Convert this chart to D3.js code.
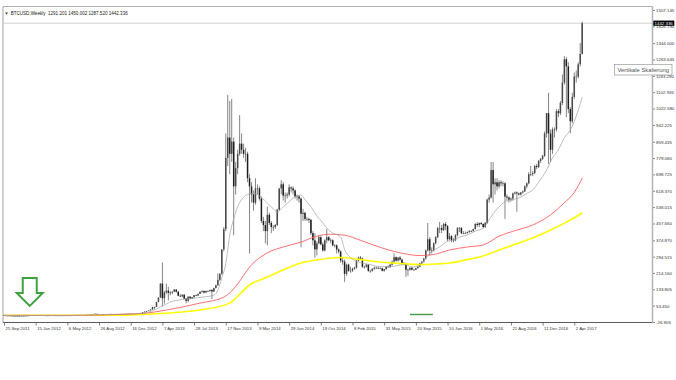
<!DOCTYPE html>
<html><head><meta charset="utf-8">
<script src="https://cdn.jsdelivr.net/npm/d3@7"></script>
<style>
html,body{margin:0;padding:0;background:#fff;}
svg{display:block;}
text{font-family:"Liberation Sans",Arial,sans-serif;}
</style></head><body>
<svg id="c" width="676" height="380"></svg>
<script>
// Weekly OHLC [open, high, low, close], weeks starting Sunday 25 Sep 2011
const ohlc2011 = [
[5.5,5.9,4.6,4.9],[4.9,5.2,4.2,4.4],[4.4,4.5,3.8,4.1],[4.1,4.2,3.0,3.2],[3.2,3.6,2.8,3.2],
[3.2,3.5,2.9,3.0],[3.0,3.1,2.7,2.9],[2.9,3.0,2.0,2.3],[2.3,2.6,2.2,2.5],[2.5,3.0,2.4,2.9],
[2.9,3.1,2.8,3.0],[3.0,3.3,2.9,3.2],[3.2,4.0,3.1,4.0],[4.0,5.1,3.9,5.0]];
const ohlc2012 = [
[5.0,7.2,4.9,6.8],[6.8,7.3,6.2,6.3],[6.3,7.0,5.9,6.4],[6.4,6.5,5.5,5.7],[5.7,6.2,5.6,6.0],
[6.0,6.1,5.4,5.6],[5.6,5.7,4.4,4.8],[4.8,5.2,4.3,5.0],[5.0,5.1,4.8,4.9],[4.9,5.0,4.8,4.9],
[4.9,5.4,4.8,5.3],[5.3,5.4,4.7,4.8],[4.8,5.0,4.7,4.9],[4.9,5.0,4.8,4.9],[4.9,5.0,4.8,4.9],
[4.9,5.2,4.9,5.1],[5.1,5.2,4.9,5.0],[5.0,5.1,4.9,5.0],[5.0,5.1,4.9,5.0],[5.0,5.2,4.9,5.1],
[5.1,5.2,5.0,5.1],[5.1,5.3,5.0,5.3],[5.3,5.6,5.2,5.5],[5.5,6.0,5.4,5.9],[5.9,6.5,5.8,6.4],
[6.4,6.8,6.3,6.7],[6.7,7.0,6.4,6.8],[6.8,7.7,6.7,7.6],[7.6,9.0,7.5,8.8],[8.8,9.2,8.4,8.9],
[8.9,11.0,8.8,10.9],[10.9,11.6,10.5,11.4],[11.4,15.4,11.2,13.2],[13.2,13.5,7.1,10.8],[10.8,11.0,10.0,10.4],
[10.4,11.2,10.3,11.1],[11.1,11.8,11.0,11.6],[11.6,12.4,11.5,12.3],[12.3,12.5,12.0,12.3],[12.3,12.9,12.2,12.7],
[12.7,12.8,11.8,12.0],[12.0,12.1,11.6,11.8],[11.8,11.9,11.0,11.6],[11.6,11.7,10.5,10.8],[10.8,11.0,10.7,10.9],
[10.9,11.3,10.8,11.2],[11.2,12.4,11.1,12.3],[12.3,12.7,12.0,12.6],[12.6,13.5,12.5,13.4],[13.4,13.8,13.0,13.6],
[13.6,13.7,13.1,13.3],[13.3,13.5,13.2,13.4],[13.4,13.8,13.3,13.7]];
const ohlc2013 = [
[13.7,14.3,13.5,14.1],[14.1,15.9,14.0,15.7],[15.7,17.8,15.5,17.5],[17.5,20.8,17.2,20.6],[20.6,24.5,20.1,24.2],
[24.2,27.6,22.0,27.2],[27.2,30.0,26.5,29.9],[29.9,34.8,29.0,34.5],[34.5,48.0,34.0,46.8],[46.8,48.5,36.0,47.0],
[47.0,72.0,46.5,71.5],[71.5,95.0,70.0,93.0],[93,164,92,162],[162,266,50,90],[90,126,63,119],
[119,162,109,127],[127,146,79,116],[116,125,105,117],[117,124,110,122],[122,135,119,133],
[133,134,118,122],[122,125,100,102],[102,110,96,99],[99,110,95,107],[107,111,86,88],
[88,90,65,77],[77,99,70,98],[98,100,85,89],[89,97,86,95],[95,106,93,105],
[105,108,100,103],[103,113,101,111],[111,124,110,122],[122,128,117,126],[126,127,113,118],
[118,127,116,126],[126,128,122,125],[125,132,123,131],[131,134,85,123],[123,142,121,140],
[140,156,139,154],[154,212,150,180],[180,212,175,210],[210,330,205,330],[330,440,320,430],
[430,900,420,780],[780,1090,740,880],[880,1060,700,800],[800,1070,760,860],[860,880,400,640],
[640,760,600,730],[730,820,700,800]];
const ohlc2014 = [
[800,990,790,850],[850,900,800,820],[820,850,780,800],[800,830,760,800],[800,810,660,680],
[680,700,310,640],[640,660,560,600],[600,620,520,560],[560,680,550,630],[630,650,600,630],
[630,640,570,580],[580,590,460,470],[470,490,420,450],[450,470,360,420],[420,540,350,500],
[500,510,450,460],[460,470,410,440],[440,450,420,440],[440,455,430,450],[450,530,445,525],
[525,630,520,630],[630,670,600,650],[650,660,570,595],[595,610,560,595],[595,610,580,600],
[600,650,590,635],[635,640,610,630],[630,640,600,620],[620,625,580,590],[590,600,570,590],
[590,595,560,580],[580,585,340,505],[505,530,470,510],[510,515,470,480],[480,490,470,480],
[480,485,460,475],[475,480,400,410],[410,420,350,375],[375,410,290,330],[330,370,300,360],
[360,400,355,390],[390,395,350,355],[355,365,320,325],[325,380,320,375],[375,430,360,390],
[390,395,370,375],[375,385,360,375],[375,380,345,350],[350,355,340,350],[350,355,310,330],
[330,335,310,320],[320,325,265,275]];
const ohlc2015 = [
[275,290,255,270],[270,280,170,210],[210,260,200,255],[255,260,220,225],[225,245,215,225],
[225,240,220,235],[235,245,230,240],[240,280,235,275],[275,295,270,290],[290,298,280,285],
[285,290,240,245],[245,250,235,245],[245,260,240,255],[255,258,220,225],[225,230,215,225],
[225,237,220,235],[235,245,230,240],[240,245,233,240],[240,243,232,237],[237,242,233,237],
[237,240,222,225],[225,235,220,233],[233,248,230,245],[245,252,240,243],[243,258,240,255],
[255,275,250,270],[270,310,265,292],[292,295,270,275],[275,292,270,290],[290,298,275,280],
[280,285,260,262],[262,268,255,260],[260,265,195,230],[230,235,200,230],[230,242,225,240],
[240,245,228,230],[230,235,225,230],[230,240,228,238],[238,248,235,245],[245,265,242,262],
[262,272,258,270],[270,288,265,285],[285,330,280,325],[325,460,320,380],[380,390,300,325],
[325,340,310,325],[325,365,320,360],[360,395,355,390],[390,440,385,435],[435,465,410,435],
[435,450,410,425],[425,460,420,455]];
const ohlc2016 = [
[455,465,425,445],[445,450,370,380],[380,410,375,395],[395,400,365,375],[375,385,365,375],
[375,405,370,400],[400,440,395,435],[435,440,415,435],[435,440,405,410],[410,420,405,410],
[410,418,405,410],[410,418,408,415],[415,425,412,420],[420,425,415,420],[420,432,418,430],
[430,460,428,455],[455,465,440,450],[450,462,440,460],[460,465,450,455],[455,458,435,440],
[440,465,435,460],[460,580,455,575],[575,600,560,585],[585,760,580,720],[720,760,560,650],
[650,680,600,660],[660,680,620,640],[640,670,630,660],[660,670,640,655],[655,665,640,655],
[655,660,480,590],[590,600,570,585],[585,590,560,575],[575,585,565,580],[580,610,570,605],
[605,615,600,610],[610,615,515,605],[605,610,595,600],[600,612,595,610],[610,620,605,615],
[615,645,612,640],[640,660,630,655],[655,710,650,700],[700,740,690,700],[700,715,690,705],
[705,745,700,740],[740,750,725,735],[735,770,730,765],[765,780,755,775],[775,795,770,790],
[790,910,785,900],[900,1000,880,1000]];
const ohlc2017 = [
[1000,1100,750,900],[900,920,760,820],[820,930,800,920],[920,930,880,920],[920,1020,910,1010],
[1010,1020,980,1000],[1000,1060,990,1050],[1050,1190,1040,1150],[1150,1280,1140,1265],[1265,1275,980,1230],
[1230,1250,1000,1020],[1020,1030,900,960],[960,1100,950,1080],[1080,1200,1070,1180],[1180,1210,1150,1180],
[1180,1250,1170,1240],[1240,1345,1230,1291.201],[1291.201,1450.002,1287.520,1442.336]];

// Moving averages: [week index] -> value
const grayIdx = [0,30,45,60,70,75,79,85,92,100,106,108,110,112,114,116,118,120,123,126,130,133,136,138,141,144,146,150,152,155,158,161,164,166,170,172,175,180,185,190,195,200,203,206,210,213,216,220,224,227,230,234,238,242,244,247,250,253,256,260,264,267,270,274,277,280,283,286,290,292];
const grayVal = [5,5,8,12,16,28,47,75,85,95,105,130,190,260,400,480,540,575,600,607,585,558,530,514,539,565,583,597,575,539,495,460,425,411,391,330,290,265,255,245,245,253,255,243,255,287,320,342,370,376,390,401,420,435,460,505,539,565,573,583,605,622,660,720,780,820,880,917,1015,1079];
const redIdx = [0,40,63,70,82,99,111,114,118,124,133,141,150,158,165,172,180,190,200,210,217,225,234,242,250,259,267,276,283,288,292];
const redVal = [6,6,12,15,32,66,95,116,160,243,313,342,366,395,405,400,375,340,313,300,305,327,342,352,395,425,450,500,560,610,681];
const yellowIdx = [0,60,70,79,99,114,116,124,133,141,150,158,170,180,190,200,210,218,225,234,242,250,258,267,276,284,292];
const yellowVal = [6,6,10,15,32,66,81,155,194,229,263,278,290,280,268,260,255,258,263,280,298,327,355,386,425,464,509];

const yTicks = [-26.905,53.450,133.805,214.160,294.515,374.870,457.660,538.015,618.370,698.725,779.080,859.435,942.225,1022.580,1102.935,1183.290,1263.645,1344.000,1426.790,1507.145];
const xTickStep = 16;
const titleText = "BTCUSD,Weekly  1291.201 1450.002 1287.520 1442.336";
const bidPrice = 1442.336;
const tooltipText = "Vertikale Skalierung";
const arrowWeek = 13, arrowPrice = 52;
const segWeeks = [205, 216.6], segPrice = 10;

const bars = [].concat(ohlc2011, ohlc2012, ohlc2013, ohlc2014, ohlc2015, ohlc2016, ohlc2017);
const dates = d3.timeWeek.range(new Date(2011,8,25), new Date(2017,4,1));

const svg = d3.select("#c");
const L = 3, R = 652.5, T = 6.5, B = 322.5;
const x = d3.scaleLinear().domain([0, bars.length - 1]).range([4, 582.2]);
const y = d3.scaleLinear().domain([-26.905, 1507.145]).range([322, 10]);

// frame
svg.append("line").attr("x1", L).attr("x2", R).attr("y1", T).attr("y2", T).attr("stroke", "#b0b0b0").attr("stroke-width", 1);
svg.append("line").attr("x1", L).attr("x2", L).attr("y1", T).attr("y2", B).attr("stroke", "#a0a0a0").attr("stroke-width", 1);

// bid line
svg.append("line").attr("x1", L).attr("x2", R).attr("y1", y(bidPrice)).attr("y2", y(bidPrice))
  .attr("stroke", "#c4c4c4").attr("stroke-width", 0.8);

// candles
const cg = svg.append("g");
cg.selectAll("line").data(bars).join("line")
  .attr("x1", (d, i) => x(i)).attr("x2", (d, i) => x(i))
  .attr("y1", d => y(d[1])).attr("y2", d => y(d[2]))
  .attr("stroke", "#666").attr("stroke-width", 0.8);
cg.selectAll("rect").data(bars).join("rect")
  .attr("x", (d, i) => x(i) - 0.75).attr("width", 1.5)
  .attr("y", d => y(Math.max(d[0], d[3])))
  .attr("height", d => Math.max(0.6, Math.abs(y(d[0]) - y(d[3]))))
  .attr("fill", d => d[3] >= d[0] ? "#4a4a4a" : "#1e1e1e");

// moving averages
const line = d3.line().x(d => x(d[0])).y(d => y(d[1])).curve(d3.curveMonotoneX);
svg.append("path").datum(d3.zip(yellowIdx, yellowVal)).attr("d", line)
  .attr("fill", "none").attr("stroke", "#ffff00").attr("stroke-width", 1.6);
svg.append("path").datum(d3.zip(redIdx, redVal)).attr("d", line)
  .attr("fill", "none").attr("stroke", "#ff6060").attr("stroke-width", 0.9);
svg.append("path").datum(d3.zip(grayIdx, grayVal)).attr("d", line)
  .attr("fill", "none").attr("stroke", "#a0a0a0").attr("stroke-width", 0.7);

// x axis
const fmt = d3.timeFormat("%-d %b %Y");
const xa = svg.append("g").attr("transform", `translate(0,${B})`)
  .call(d3.axisBottom(x).tickValues(d3.range(0, bars.length, xTickStep)).tickFormat(i => fmt(dates[i])).tickSize(3).tickPadding(1.5));
xa.select(".domain").remove();
xa.selectAll(".tick line").attr("stroke", "#444").attr("stroke-width", 0.7);
xa.selectAll(".tick text").attr("text-anchor", "start").attr("dx", 1).attr("font-size", 4.3).attr("fill", "#333").style("font-family", "Liberation Sans, Arial, sans-serif");
svg.append("line").attr("x1", L).attr("x2", R).attr("y1", B).attr("y2", B).attr("stroke", "#5a5a5a").attr("stroke-width", 1);

// y axis
const ya = svg.append("g").attr("transform", `translate(${R},0)`)
  .call(d3.axisRight(y).tickValues(yTicks).tickFormat(d => d.toFixed(3)).tickSize(2.5).tickPadding(1));
ya.select(".domain").remove();
ya.selectAll(".tick line").attr("stroke", "#555").attr("stroke-width", 0.7);
ya.selectAll(".tick text").attr("font-size", 4.4).attr("fill", "#333").style("font-family", "Liberation Sans, Arial, sans-serif");
svg.append("line").attr("x1", R).attr("x2", R).attr("y1", T).attr("y2", B).attr("stroke", "#b4b4b4").attr("stroke-width", 1.5);

// bid label
const by = y(bidPrice);
svg.append("rect").attr("x", R + 0.8).attr("y", by - 2.6).attr("width", 21).attr("height", 5.2).attr("fill", "#000");
svg.append("text").attr("x", R + 2).attr("y", by).attr("dy", "0.34em").attr("font-size", 4.4).attr("fill", "#fff").text(bidPrice.toFixed(3));

// title
svg.append("path").attr("d", "M5,12.6 L8,12.6 L6.5,14.6 Z").attr("fill", "#333");
svg.append("text").attr("x", 10.7).attr("y", 15).attr("font-size", 5.2).attr("fill", "#222")
  .attr("textLength", 117).attr("lengthAdjust", "spacingAndGlyphs").style("white-space", "pre").text(titleText);

// green arrow annotation
const ax = x(arrowWeek), ay = y(arrowPrice);
const arrowPts = [[-7,-28],[7,-28],[7,-13],[13,-13],[0,0],[-13,-13],[-7,-13]];
svg.append("path").attr("d", "M" + arrowPts.map(p => [ax + p[0], ay + p[1]].join(",")).join("L") + "Z")
  .attr("fill", "#fff").attr("stroke", "#3ea23e").attr("stroke-width", 2).attr("stroke-linejoin", "miter");

// green horizontal segment
svg.append("line").attr("x1", x(segWeeks[0])).attr("x2", x(segWeeks[1])).attr("y1", y(segPrice)).attr("y2", y(segPrice))
  .attr("stroke", "#4f9a4f").attr("stroke-width", 1.5);

// tooltip
svg.append("rect").attr("x", 614.5).attr("y", 64.5).attr("width", 57.5).attr("height", 10.5)
  .attr("fill", "#fdfdfd").attr("stroke", "#8a8a8a").attr("stroke-width", 0.6);
svg.append("text").attr("x", 617.5).attr("y", 71.6).attr("font-size", 5.6).attr("fill", "#555")
  .attr("textLength", 51.5).attr("lengthAdjust", "spacingAndGlyphs").text(tooltipText);
</script></body></html>
